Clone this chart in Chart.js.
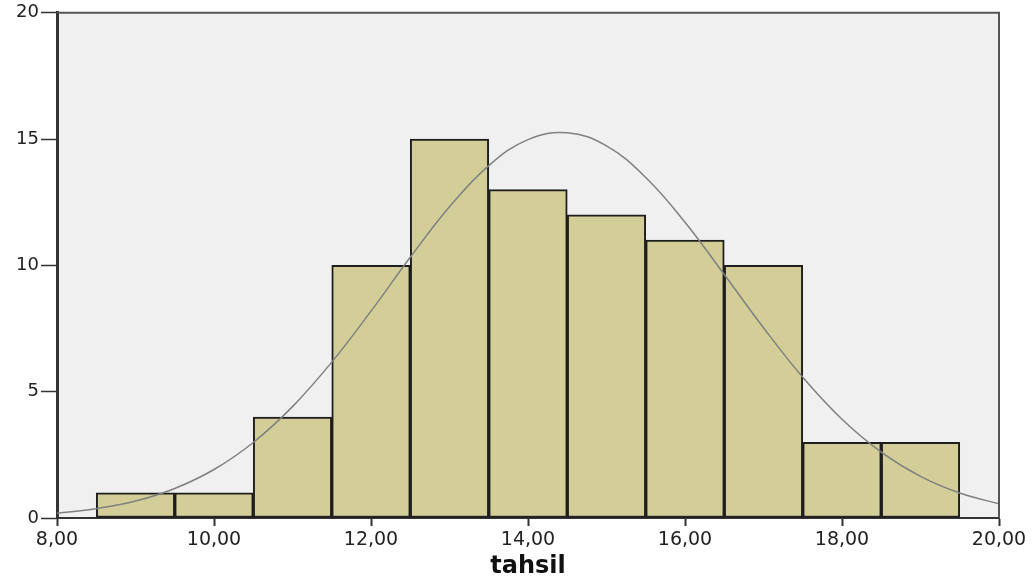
<!DOCTYPE html>
<html>
<head>
<meta charset="utf-8">
<script src="https://cdn.jsdelivr.net/npm/chart.js@4.4.0/dist/chart.umd.min.js"></script>
<style>
  html, body { margin: 0; padding: 0; background: #ffffff; }
  #wrap { width: 1034px; height: 583px; }
</style>
</head>
<body>
<div id="wrap"><canvas id="histo"></canvas></div>
<script>
// bin centres (width 1) and counts
const binCenters = [9, 10, 11, 12, 13, 14, 15, 16, 17, 18, 19];
const counts = [1, 1, 4, 10, 15, 13, 12, 11, 10, 3, 3];

// normal curve at half-unit steps
const curveX = [8, 8.5, 9, 9.5, 10, 10.5, 11, 11.5, 12, 12.5, 13, 13.5, 14,
  14.5, 15, 15.5, 16, 16.5, 17, 17.5, 18, 18.5, 19, 19.5, 20];
const curveY = [0.19, 0.37, 0.67, 1.17, 1.92, 2.99, 4.41, 6.17, 8.19, 10.32, 12.32, 13.95, 14.98,
  15.25, 14.73, 13.48, 11.71, 9.64, 7.53, 5.57, 3.91, 2.61, 1.65, 0.99, 0.56];

const xTicks = [8, 10, 12, 14, 16, 18, 20];
const yTicks = [0, 5, 10, 15, 20];

// fondo gris del area de datos y marco arriba/derecha
const plotFrame = {
    id: 'plotFrame',
    beforeDraw(chart) {
        const { ctx, chartArea: a } = chart;
        ctx.save();
        ctx.fillStyle = '#f0f0f0';
        ctx.fillRect(a.left, a.top, a.right - a.left, a.bottom - a.top);
        ctx.restore();
    },
    afterDraw(chart) {
        const { ctx, chartArea: a } = chart;
        ctx.save();
        ctx.strokeStyle = '#555555';
        ctx.lineWidth = 2;
        ctx.beginPath();
        ctx.moveTo(a.left, a.top);
        ctx.lineTo(a.right, a.top);
        ctx.lineTo(a.right, a.bottom);
        ctx.stroke();
        ctx.restore();
    }
};

const ctx = document.getElementById('histo').getContext('2d');
new Chart(ctx, {
    type: 'bar',
    data: {
        datasets: [{
            type: 'line',
            data: curveX.map((x, i) => ({ x: x, y: curveY[i] })),
            borderColor: '#808080',
            borderWidth: 1.5,
            pointRadius: 0,
            tension: 0.4,
            fill: false,
            order: 0
        }, {
            type: 'bar',
            data: binCenters.map((x, i) => ({ x: x, y: counts[i] })),
            backgroundColor: '#d3ce98',
            borderColor: '#1e1e1e',
            borderWidth: 2,
            borderSkipped: false,
            barPercentage: 1,
            categoryPercentage: 1,
            order: 1
        }]
    },
    options: {
        responsive: true,
        maintainAspectRatio: false,
        animation: false,
        layout: { padding: { top: 10, right: 35, left: 0, bottom: 0 } },
        plugins: {
            legend: { display: false },
            tooltip: { enabled: false }
        },
        scales: {
            x: {
                type: 'linear',
                min: 8,
                max: 20,
                offset: false,
                afterBuildTicks: (s) => { s.ticks = xTicks.map(v => ({ value: v })); },
                afterFit: (s) => { s.height = 65; },
                ticks: {
                    color: '#222222',
                    padding: 3,
                    maxRotation: 0,
                    font: { family: 'DejaVu Sans', size: 19 },
                    callback: (v) => v.toFixed(2).replace('.', ',')
                },
                grid: {
                    display: true,
                    offset: false,
                    drawOnChartArea: false,
                    drawTicks: true,
                    tickLength: 8,
                    tickColor: '#333333',
                    tickWidth: 2
                },
                border: { display: true, color: '#333333', width: 2 },
                title: {
                    display: true,
                    text: 'tahsil',
                    color: '#111111',
                    font: { family: 'DejaVu Sans', size: 24, weight: 'bold' },
                    padding: { top: 0, bottom: 2 }
                }
            },
            y: {
                min: 0,
                max: 20,
                afterBuildTicks: (s) => { s.ticks = yTicks.map(v => ({ value: v })); },
                afterFit: (s) => { s.width = 57; },
                ticks: {
                    color: '#222222',
                    padding: 2,
                    font: { family: 'DejaVu Sans', size: 18 }
                },
                grid: {
                    display: true,
                    offset: false,
                    drawOnChartArea: false,
                    drawTicks: true,
                    tickLength: 16,
                    tickColor: '#333333',
                    tickWidth: 1.5
                },
                border: { display: true, color: '#333333', width: 3 }
            }
        }
    },
    plugins: [plotFrame]
});
</script>
</body>
</html>
